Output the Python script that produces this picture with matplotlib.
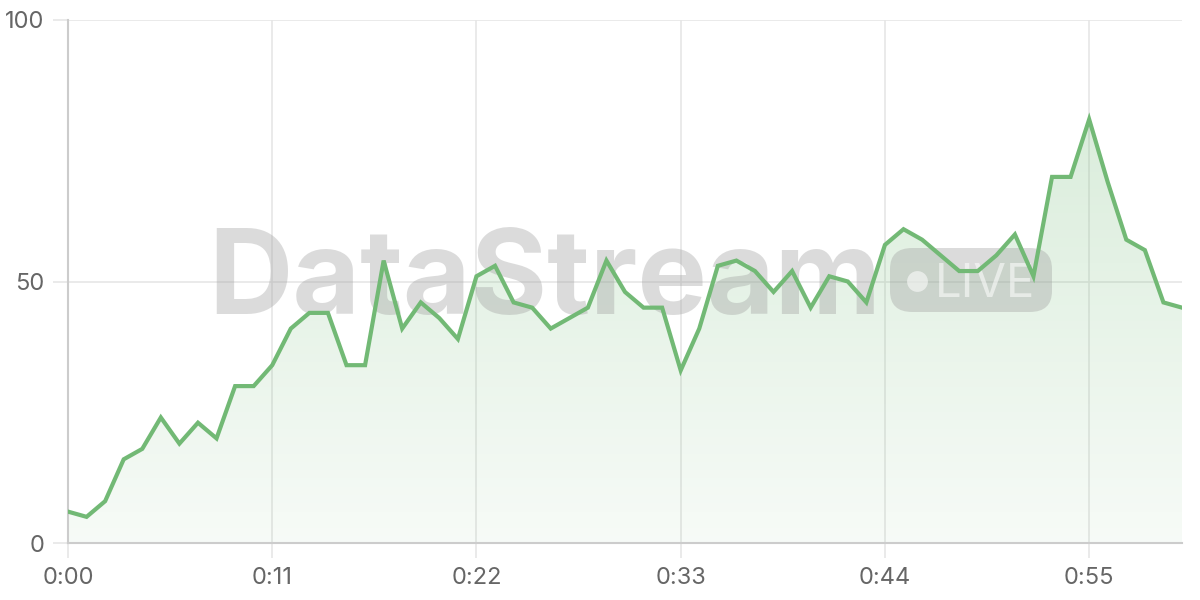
import numpy as np
import matplotlib
matplotlib.use("Agg")
import matplotlib.pyplot as plt
from matplotlib.patches import FancyBboxPatch
from matplotlib.colors import LinearSegmentedColormap

seconds = list(range(61))
values = [6, 5, 8, 16, 18, 24, 19, 23, 20, 30,
          30, 34, 41, 44, 44, 34, 34, 54, 41, 46,
          43, 39, 51, 53, 46, 45, 41, 43, 45, 54,
          48, 45, 45, 33, 41, 53, 54, 52, 48, 52,
          45, 51, 50, 46, 57, 60, 58, 55, 52, 52,
          55, 59, 51, 70, 70, 81, 69, 58, 56, 46, 45]
x_ticks = [0, 11, 22, 33, 44, 55]
x_labels = ["0:00", "0:11", "0:22", "0:33", "0:44", "0:55"]
y_ticks = [0, 50, 100]
watermark = "DataStream"
badge = "LIVE"

line_color = "#72b975"

fig = plt.figure(figsize=(12, 6), dpi=100)
AX_L, AX_R, AX_T, AX_B = 68, 1182, 20, 543
ax = fig.add_axes([AX_L/1200, 1-AX_B/600, (AX_R-AX_L)/1200, (AX_B-AX_T)/600])
ax.set_xlim(0, 60)
ax.set_ylim(0, 100)

def fx(px):
    return (px - AX_L) / (AX_R - AX_L)

def fy(py):
    return (AX_B - py) / (AX_B - AX_T)

# gradient fill
x = np.array(seconds, dtype=float)
y = np.array(values, dtype=float)
grad = np.linspace(0, 1, 256).reshape(-1, 1)
cmap = LinearSegmentedColormap.from_list("g", [(0.45, 0.73, 0.47, 0.06), (0.45, 0.73, 0.47, 0.26)])
im = ax.imshow(grad, extent=[0, 60, 0, max(values)], origin="lower", aspect="auto", cmap=cmap, zorder=1)
poly = ax.fill_between(x, 0, y, color="none")
im.set_clip_path(poly.get_paths()[0], transform=ax.transData)

# watermark
ax.text(fx(208), fy(314), watermark, transform=ax.transAxes, ha="left", va="baseline",
        fontsize=84, fontweight="bold", family="Inter", color="#9a9a9a", alpha=0.35, zorder=2)
box = FancyBboxPatch((fx(890), fy(312)), fx(1052)-fx(890), fy(248)-fy(312),
                     boxstyle="round,pad=0,rounding_size=0.02",
                     transform=ax.transAxes, facecolor="#9a9a9a", edgecolor="none", alpha=0.35, zorder=2,
                     mutation_aspect=2.0)
ax.add_patch(box)
ax.plot([fx(917)], [fy(281)], marker="o", markersize=15, color="white", alpha=0.55,
        transform=ax.transAxes, zorder=2, markeredgewidth=0)
ax.text(fx(985), fy(297), badge, transform=ax.transAxes, ha="center", va="baseline",
        fontsize=34, family="Inter", color="white", alpha=0.55, zorder=2)

ax.plot(x, y, color=line_color, linewidth=3, zorder=3, solid_joinstyle="miter")

ax.set_xticks(x_ticks)
ax.set_xticklabels(x_labels)
ax.set_yticks(y_ticks)
ax.grid(True, color="#e6e6e6", linewidth=1.2, zorder=0)
ax.set_axisbelow(True)
for s in ["top", "right"]:
    ax.spines[s].set_visible(False)
for s in ["left", "bottom"]:
    ax.spines[s].set_color("#cccccc")
    ax.spines[s].set_linewidth(1.5)
ax.tick_params(axis="both", length=11, width=1.2, color="#e6e6e6", labelsize=17, labelcolor="#666666", pad=6)
for lab in ax.get_xticklabels() + ax.get_yticklabels():
    lab.set_family("Inter")

fig.savefig("out.png", dpi=100, facecolor="white")
